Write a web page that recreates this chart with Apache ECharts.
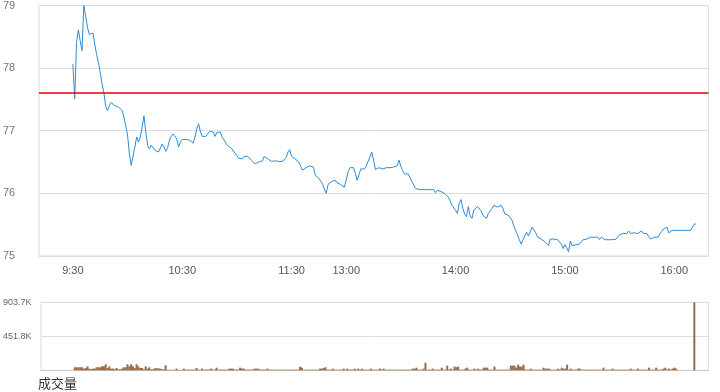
<!DOCTYPE html>
<html>
<head>
<meta charset="utf-8">
<script src="https://cdn.jsdelivr.net/npm/echarts@6/dist/echarts.min.js"></script>
<style>html,body{margin:0;padding:0;background:#fff}#c{width:720px;height:392px}</style>
</head>
<body>
<div id="c"></div>
<script>
// minute index from 9:30 (lunch break removed)
const timeTicks = [0, 60, 120, 150, 210, 270, 330];
const timeLabels = ['9:30', '10:30', '11:30', '13:00', '14:00', '15:00', '16:00'];
const prevClose = 77.6;
const priceTicks = [75, 76, 77, 78, 79];

const price = [
78.07,77.51,78.41,78.61,78.44,78.28,79.00,78.83,78.65,78.54,
78.52,78.56,78.38,78.22,78.09,77.93,77.75,77.61,77.39,77.32,
77.40,77.45,77.42,77.40,77.39,77.38,77.37,77.32,77.22,77.08,
76.93,76.63,76.45,76.48,76.74,76.90,76.82,76.90,77.06,77.24,
76.98,76.77,76.71,76.77,76.74,76.69,76.66,76.66,76.69,76.79,
76.74,76.67,76.73,76.85,76.91,76.95,76.95,76.87,76.74,76.82,
76.86,76.86,76.86,76.86,76.85,76.82,76.80,76.90,77.03,77.11,
76.98,76.91,76.91,76.91,76.95,76.99,76.99,76.98,76.91,76.97,
76.99,76.98,76.89,76.85,76.80,76.76,76.75,76.72,76.69,76.64,
76.60,76.56,76.55,76.55,76.59,76.59,76.59,76.58,76.53,76.50,
76.47,76.48,76.50,76.51,76.52,76.59,76.57,76.55,76.53,76.51,
76.53,76.52,76.51,76.51,76.51,76.51,76.51,76.57,76.66,76.70,
76.59,76.56,76.55,76.55,76.50,76.43,76.37,76.39,76.41,76.44,
76.44,76.44,76.42,76.29,76.26,76.24,76.21,76.15,76.07,76.00,
76.14,76.15,76.19,76.18,76.21,76.17,76.16,76.14,76.11,76.10,
76.11,76.34,76.41,76.44,76.41,76.32,76.21,76.22,76.39,76.37,
76.39,76.44,76.51,76.58,76.66,76.53,76.38,76.41,76.41,76.41,
76.39,76.41,76.41,76.38,76.41,76.41,76.42,76.43,76.44,76.53,
76.43,76.36,76.31,76.31,76.31,76.29,76.19,76.16,76.08,76.06,
76.06,76.06,76.06,76.06,76.06,76.06,76.06,76.06,76.06,76.01,
76.05,76.06,76.03,76.01,76.00,76.00,75.94,75.88,75.81,75.79,
75.73,75.68,75.84,75.90,75.76,75.67,75.63,75.79,75.64,75.60,
75.73,75.74,75.79,75.80,75.72,75.65,75.68,75.60,75.68,75.65,
75.76,75.81,75.80,75.78,75.81,75.81,75.76,75.67,75.65,75.65,
75.64,75.57,75.48,75.40,75.34,75.26,75.19,75.16,75.32,75.38,
75.32,75.34,75.46,75.45,75.37,75.30,75.27,75.27,75.26,75.23,
75.20,75.17,75.27,75.30,75.27,75.26,75.26,75.26,75.19,75.12,
75.18,75.16,75.07,75.24,75.16,75.19,75.18,75.16,75.19,75.22,
75.26,75.26,75.27,75.30,75.30,75.30,75.30,75.30,75.30,75.26,
75.30,75.27,75.26,75.26,75.26,75.26,75.26,75.26,75.27,75.30,
75.34,75.36,75.36,75.36,75.36,75.40,75.36,75.36,75.37,75.40,
75.36,75.36,75.40,75.36,75.36,75.36,75.31,75.27,75.30,75.30,
75.30,75.30,75.30,75.39,75.43,75.41,75.46,75.37,75.40,75.41,
75.44,75.41,75.41,75.41,75.41,75.41,75.41,75.41,75.41,75.41,
75.46,75.51,75.51
];

// volume in thousands of shares
const volume = [
40,40,40,40,40,22,31,53,22,15,
22,22,40,40,40,53,53,80,31,53,
22,22,15,31,13,13,22,40,40,80,
53,80,53,31,80,53,31,31,13,53,
22,40,13,13,27,27,27,22,13,13,
67,6,6,6,6,6,22,6,6,6,
22,9,9,9,9,9,9,31,9,6,
22,9,9,9,9,22,9,9,35,9,
9,9,9,9,9,22,22,22,9,9,
9,35,22,22,9,9,9,9,9,22,
22,22,9,9,9,9,22,8,8,8,
8,8,8,8,8,8,8,8,8,8,
8,8,8,8,49,35,8,8,8,8,
8,8,8,8,8,22,22,31,40,8,
8,8,22,8,8,8,8,8,22,8,
22,8,8,8,22,8,22,8,22,8,
8,8,8,22,8,8,8,8,22,8,
22,8,8,8,8,8,8,8,8,8,
8,8,8,8,8,8,22,22,35,8,
8,8,22,100,8,8,8,22,8,8,
8,8,35,8,8,62,8,22,8,49,
40,49,8,8,8,22,35,8,8,8,
22,8,22,8,8,35,35,35,8,8,
8,49,8,8,8,8,8,8,8,8,
62,62,62,35,75,49,49,75,8,8,
8,22,8,8,8,8,8,8,35,22,
22,22,8,8,8,8,22,8,35,22,
22,75,8,22,8,8,8,22,22,8,
8,8,8,8,8,8,8,8,8,8,
8,35,8,8,8,8,22,8,8,8,
8,8,8,8,8,8,22,8,8,8,
22,8,8,8,8,8,35,8,8,8,
35,8,8,8,22,35,8,22,8,22,
35,22,0,0,0,0,0,0,0,0,
0,903.68
];

const volMax = Math.max.apply(null, volume);
const FONT = '"Liberation Sans", Arial, "Noto Sans CJK SC", sans-serif';
const X_MIN = -18.6, X_MAX = 348.8;

const chart = echarts.init(document.getElementById('c'), null, {renderer: 'canvas'});
chart.setOption({
  animation: false,
  backgroundColor: '#fff',
  textStyle: {fontFamily: FONT},
  title: {
    text: '成交量', left: 38, top: 378, padding: 0,
    textStyle: {fontSize: 13, fontWeight: 'normal', color: '#333', fontFamily: FONT}
  },
  grid: [
    {left: 38, right: 11.5, top: 4.5, height: 251.5, show: true, borderColor: '#ddd', borderWidth: 1},
    {left: 38, right: 11.5, top: 302.3, height: 68, show: true, borderColor: '#ddd', borderWidth: 1}
  ],
  xAxis: [
    {
      type: 'value', gridIndex: 0, min: X_MIN, max: X_MAX,
      axisLine: {show: true, lineStyle: {color: '#ddd'}},
      axisTick: {show: false},
      splitLine: {show: false},
      axisLabel: {
        customValues: timeTicks,
        color: '#555', fontSize: 11, margin: 9, fontFamily: FONT,
        formatter: function (v) { const i = timeTicks.indexOf(Math.round(v)); return i >= 0 ? timeLabels[i] : ''; }
      }
    },
    {
      type: 'value', gridIndex: 1, min: X_MIN, max: X_MAX,
      axisLine: {show: true, lineStyle: {color: '#ccc'}},
      axisTick: {show: false}, splitLine: {show: false}, axisLabel: {show: false}
    }
  ],
  yAxis: [
    {
      type: 'value', gridIndex: 0, min: priceTicks[0], max: priceTicks[priceTicks.length - 1], interval: 1,
      axisLine: {show: false}, axisTick: {show: false},
      splitLine: {show: true, lineStyle: {color: '#ddd', width: 1}},
      axisLabel: {color: '#777', fontSize: 11, align: 'left', margin: 36, fontFamily: FONT}
    },
    {
      type: 'value', gridIndex: 1, min: 0, max: volMax, interval: volMax / 2,
      axisLine: {show: false}, axisTick: {show: false},
      splitLine: {show: true, lineStyle: {color: '#ddd', width: 1}},
      axisLabel: {
        color: '#666', fontSize: 9, align: 'left', margin: 38, fontFamily: FONT,
        formatter: function (v) { return v === 0 ? '' : v.toFixed(1) + 'K'; }
      }
    }
  ],
  series: [
    {
      type: 'line', xAxisIndex: 0, yAxisIndex: 0,
      data: price.map(function (v, i) { return [i, v]; }),
      showSymbol: false, symbol: 'none',
      lineStyle: {color: '#2b8cd8', width: 1},
      silent: true,
      markLine: {
        silent: true, symbol: ['none', 'none'],
        label: {show: false},
        lineStyle: {color: '#e00000', width: 1.5, type: 'solid'},
        data: [{yAxis: prevClose}]
      }
    },
    {
      type: 'bar', xAxisIndex: 1, yAxisIndex: 1,
      data: volume.map(function (v, i) { return [i, v]; }),
      barWidth: 2,
      itemStyle: {color: '#9a6b46'},
      silent: true
    }
  ]
});
</script>
</body>
</html>
